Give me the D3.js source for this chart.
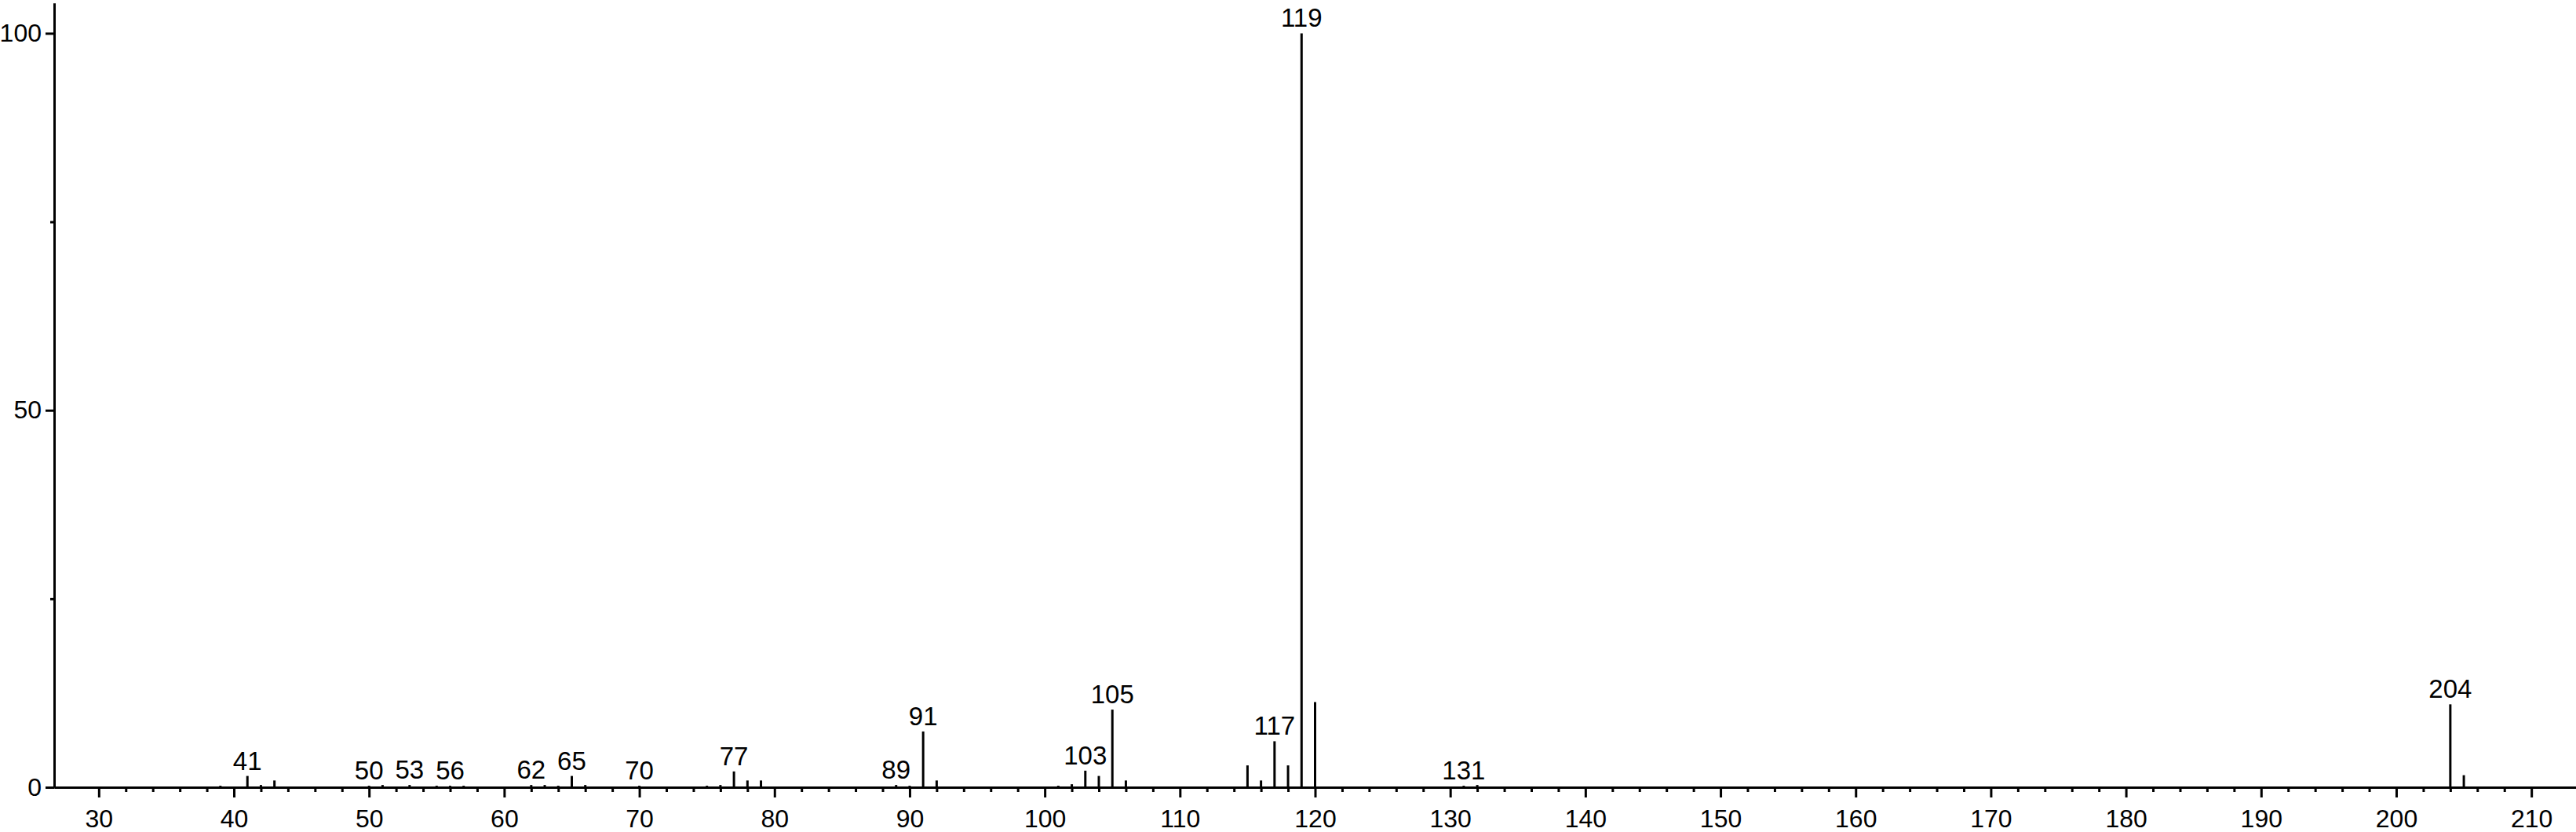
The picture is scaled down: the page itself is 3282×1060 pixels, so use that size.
<!DOCTYPE html>
<html>
<head>
<meta charset="utf-8">
<script src="https://cdn.jsdelivr.net/npm/d3@7"></script>
<style>
  body { margin: 0; background: #fff; }
  svg { display: block; }
  .axis path, .axis line { stroke: #000; stroke-width: 3; }
  .axis text { font-family: "Liberation Sans", Arial, sans-serif; font-size: 32px; fill: #000; }
  .peakLabel { font-family: "Liberation Sans", Arial, sans-serif; font-size: 33px; fill: #000; }
</style>
</head>
<body>
<div id="spectrum"></div>
<script>
//spectrum data: m/z and relative intensity (%)
var massValues = [39, 41, 42, 43, 50, 51, 53, 55, 56, 57, 62, 63, 64, 65, 66, 70, 75, 76, 77, 78, 79,
  89, 90, 91, 92, 101, 102, 103, 104, 105, 106, 115, 116, 117, 118, 119, 120, 131, 132, 204, 205];
var intensities = [0.2, 1.5, 0.3, 0.9, 0.2, 0.3, 0.3, 0.2, 0.2, 0.2, 0.3, 0.3, 0.2, 1.5, 0.3, 0.2, 0.2, 0.3, 2.1, 0.9, 0.9,
  0.3, 0.2, 7.4, 0.9, 0.2, 0.4, 2.2, 1.5, 10.3, 0.9, 2.9, 0.9, 6.1, 2.9, 100, 11.3, 0.2, 0.3, 11.0, 1.6];

//peaks that get their m/z written above them
var labeledMasses = [41, 50, 53, 56, 62, 65, 70, 77, 89, 91, 103, 105, 117, 119, 131, 204];

//tick labels
var xMajorTicks = [30, 40, 50, 60, 70, 80, 90, 100, 110, 120, 130, 140, 150, 160, 170, 180, 190, 200, 210];
var yMajorTicks = [0, 50, 100];
var yMinorTicks = [25, 75];

//define SVG area dimensions
var svgWidth = 3282;
var svgHeight = 1060;

var margin = {
  top: 4,
  right: 0,
  bottom: 57,
  left: 69
};

var width = svgWidth - margin.left - margin.right;
var height = svgHeight - margin.top - margin.bottom;

var svg = d3.select("#spectrum")
  .append("svg")
  .attr("width", svgWidth)
  .attr("height", svgHeight);

var chartGroup = svg.append("g")
  .attr("transform", `translate(${margin.left}, ${margin.top})`);

var peaks = massValues.map(function(m, i) {
  return { mass: m, intensity: intensities[i] };
});

//scales
var xLinearScale = d3.scaleLinear()
  .domain([26.7, 213.3])
  .range([0, width]);

var yLinearScale = d3.scaleLinear()
  .domain([0, 104])
  .range([height, 0]);

//minor x ticks every 2 units
var xMinorTicks = d3.range(30, 211, 2).filter(d => d % 10 !== 0);

//x axis: minor ticks first, then major ticks with labels
chartGroup.append("g")
  .attr("class", "axis")
  .attr("transform", `translate(0, ${height})`)
  .call(d3.axisBottom(xLinearScale).tickValues(xMinorTicks).tickSize(6).tickSizeOuter(0).tickFormat(""));

chartGroup.append("g")
  .attr("class", "axis")
  .attr("transform", `translate(0, ${height})`)
  .call(d3.axisBottom(xLinearScale).tickValues(xMajorTicks).tickSize(13).tickSizeOuter(0).tickPadding(15));

//y axis
chartGroup.append("g")
  .attr("class", "axis")
  .call(d3.axisLeft(yLinearScale).tickValues(yMinorTicks).tickSize(5).tickSizeOuter(0).tickFormat(""));

chartGroup.append("g")
  .attr("class", "axis")
  .call(d3.axisLeft(yLinearScale).tickValues(yMajorTicks).tickSize(11).tickSizeOuter(0).tickPadding(5));

//peak sticks
chartGroup.selectAll(".peak")
  .data(peaks)
  .enter()
  .append("line")
  .attr("class", "peak")
  .attr("x1", d => xLinearScale(d.mass))
  .attr("x2", d => xLinearScale(d.mass))
  .attr("y1", yLinearScale(0))
  .attr("y2", d => yLinearScale(d.intensity))
  .attr("stroke", "#000")
  .attr("stroke-width", 3);

//peak labels
chartGroup.selectAll(".peakLabel")
  .data(peaks.filter(d => labeledMasses.indexOf(d.mass) >= 0))
  .enter()
  .append("text")
  .attr("class", "peakLabel")
  .attr("x", d => xLinearScale(d.mass))
  .attr("y", d => yLinearScale(d.intensity) - 8)
  .attr("text-anchor", "middle")
  .text(d => d.mass);
</script>
</body>
</html>
